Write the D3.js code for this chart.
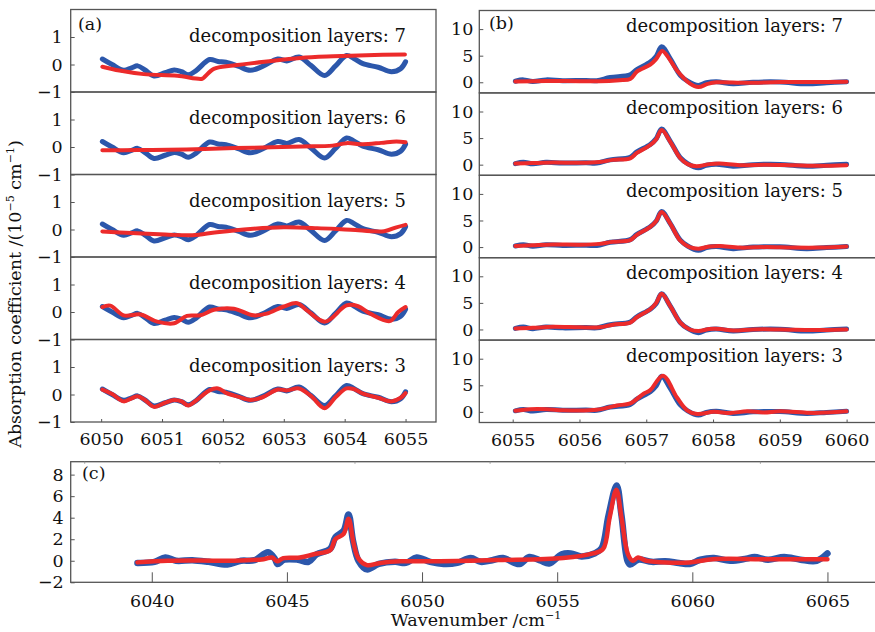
<!DOCTYPE html>
<html>
<head>
<meta charset="utf-8">
<script src="https://cdn.jsdelivr.net/npm/d3@7"></script>
<style>
  body { margin: 0; background: #fff; }
  text { font-family: "DejaVu Serif", serif; fill: #111; }
</style>
</head>
<body>
<div id="chart"></div>
<script>
// ---- data ----
var layers = [7, 6, 5, 4, 3]
var ticksA = [-1, 0, 1]
var ticksB = [0, 5, 10]
var ticksC = [-2, 0, 2, 4, 6, 8]
var xTicksA = [6050, 6051, 6052, 6053, 6054, 6055]
var xTicksB = [6055, 6056, 6057, 6058, 6059, 6060]
var xTicksC = [6040, 6045, 6050, 6055, 6060, 6065]
var topTicksC = [6037.5, 6042.5, 6047.5, 6052.5, 6057.5, 6062.5]

// (a) blue: same trace in every layer
var blueA = [[6050.02,0.2],[6050.18,0.0],[6050.37,-0.21],[6050.5,-0.12],[6050.6,-0.05],[6050.72,-0.2],[6050.87,-0.42],[6051.05,-0.3],[6051.2,-0.2],[6051.32,-0.26],[6051.43,-0.37],[6051.56,-0.22],[6051.78,0.18],[6051.92,0.11],[6052.05,0.08],[6052.25,-0.06],[6052.45,-0.21],[6052.65,-0.07],[6052.9,0.2],[6053.05,0.13],[6053.25,0.27],[6053.45,-0.04],[6053.67,-0.4],[6053.85,-0.05],[6054.03,0.33],[6054.15,0.22],[6054.3,0.03],[6054.55,-0.1],[6054.77,-0.26],[6054.92,-0.15],[6055.0,0.1]]
var redA7 = [[6050.02,-0.08],[6050.3,-0.22],[6050.7,-0.35],[6051.25,-0.41],[6051.66,-0.52],[6051.7,-0.45],[6051.85,-0.16],[6052.17,-0.04],[6052.72,0.11],[6053.27,0.24],[6053.81,0.3],[6054.36,0.34],[6054.99,0.36]]
var redA6 = [[6050.02,-0.12],[6050.6,-0.11],[6051.1,-0.1],[6051.7,-0.07],[6052.2,-0.04],[6052.8,-0.01],[6053.3,0.02],[6053.8,0.05],[6054.03,0.14],[6054.3,0.1],[6054.6,0.15],[6054.85,0.2],[6055.0,0.17]]
var redA5 = [[6050.02,-0.07],[6050.5,-0.13],[6051.05,-0.18],[6051.5,-0.21],[6051.9,-0.1],[6052.45,0.02],[6053.0,0.08],[6053.55,0.05],[6054.1,-0.01],[6054.65,-0.06],[6054.85,0.08],[6055.0,0.17]]
var redA4 = [[6050.02,0.18],[6050.15,0.23],[6050.37,-0.12],[6050.65,-0.09],[6050.92,-0.35],[6051.2,-0.41],[6051.41,-0.14],[6051.63,-0.12],[6051.85,0.08],[6052.18,0.12],[6052.5,-0.12],[6052.72,-0.06],[6053.0,0.2],[6053.22,0.32],[6053.38,0.06],[6053.68,-0.35],[6054.03,0.24],[6054.22,0.21],[6054.42,-0.06],[6054.74,-0.33],[6054.88,0.0],[6055.0,0.18]]
var redA3 = [[6050.02,0.18],[6050.18,0.02],[6050.37,-0.25],[6050.5,-0.14],[6050.6,-0.06],[6050.72,-0.2],[6050.87,-0.45],[6051.05,-0.3],[6051.2,-0.2],[6051.32,-0.25],[6051.43,-0.4],[6051.56,-0.22],[6051.78,0.15],[6051.92,0.22],[6052.05,0.06],[6052.25,-0.08],[6052.45,-0.2],[6052.65,-0.1],[6052.9,0.18],[6053.05,0.15],[6053.25,0.22],[6053.45,-0.06],[6053.67,-0.5],[6053.85,-0.1],[6054.03,0.22],[6054.15,0.2],[6054.3,0.03],[6054.55,-0.12],[6054.77,-0.25],[6054.92,-0.12],[6055.0,0.05]]

// (b)
var blueB = [[6055.04,0.2],[6055.16,0.45],[6055.3,0.15],[6055.5,0.45],[6055.75,0.3],[6056.1,0.35],[6056.26,0.3],[6056.46,0.9],[6056.76,1.4],[6056.86,2.4],[6057.06,3.8],[6057.15,4.9],[6057.23,6.7],[6057.36,4.4],[6057.51,1.3],[6057.62,0.2],[6057.78,-0.6],[6057.9,-0.1],[6058.05,0.1],[6058.3,-0.3],[6058.6,0.0],[6059.0,0.05],[6059.4,-0.3],[6059.7,-0.1],[6060.0,0.1]]
var redB7 = [[6055.04,0.15],[6055.5,0.25],[6056.0,0.2],[6056.3,0.2],[6056.6,0.4],[6056.76,0.6],[6056.86,2.0],[6057.06,3.3],[6057.15,4.4],[6057.24,5.9],[6057.35,4.3],[6057.46,2.2],[6057.65,-0.2],[6057.78,-0.9],[6057.92,-0.3],[6058.05,0.0],[6058.5,-0.1],[6059.0,0.05],[6059.5,0.05],[6060.0,0.1]]
var redB6 = [[6055.04,0.2],[6055.3,0.3],[6055.6,0.4],[6056.0,0.35],[6056.3,0.5],[6056.5,0.9],[6056.76,1.2],[6056.86,2.2],[6057.06,3.7],[6057.15,4.8],[6057.23,6.5],[6057.36,4.3],[6057.51,1.2],[6057.62,0.1],[6057.75,-0.3],[6057.95,0.1],[6058.1,0.2],[6058.4,-0.1],[6058.8,0.0],[6059.2,-0.1],[6059.6,-0.2],[6060.0,-0.1]]
var redB5 = [[6055.04,0.2],[6055.3,0.35],[6055.6,0.5],[6056.0,0.45],[6056.3,0.6],[6056.5,1.0],[6056.76,1.3],[6056.86,2.3],[6057.06,3.8],[6057.15,4.9],[6057.23,6.6],[6057.36,4.4],[6057.51,1.2],[6057.65,0.0],[6057.78,-0.3],[6057.95,0.1],[6058.1,0.2],[6058.4,-0.1],[6058.8,0.0],[6059.2,-0.1],[6059.6,-0.1],[6060.0,0.1]]
var redB4 = [[6055.04,0.2],[6055.3,0.3],[6055.6,0.5],[6056.0,0.4],[6056.3,0.4],[6056.5,0.9],[6056.76,1.3],[6056.86,2.3],[6057.06,3.8],[6057.15,5.0],[6057.23,6.7],[6057.36,4.4],[6057.51,1.3],[6057.65,0.0],[6057.78,-0.3],[6057.95,0.1],[6058.1,0.1],[6058.3,-0.2],[6058.6,0.0],[6059.0,0.0],[6059.5,-0.1],[6060.0,0.0]]
var redB3 = [[6055.04,0.2],[6055.26,0.5],[6055.51,0.5],[6055.76,0.3],[6056.26,0.4],[6056.56,1.2],[6056.76,1.6],[6056.96,3.4],[6057.06,4.1],[6057.25,6.8],[6057.46,2.7],[6057.61,0.3],[6057.76,-0.4],[6058.01,0.0],[6058.26,-0.2],[6058.51,0.1],[6058.76,-0.1],[6059.01,0.1],[6059.51,-0.2],[6060.0,0.1]]

// (c)
var blueC = [[6039.47,-0.2],[6040.1,-0.1],[6040.5,0.3],[6040.9,0.0],[6041.5,0.05],[6042.1,-0.1],[6042.8,-0.35],[6043.3,0.0],[6043.8,0.05],[6044.3,0.8],[6044.55,0.2],[6044.65,-0.3],[6044.9,0.1],[6045.4,0.1],[6045.8,-0.1],[6046.1,0.6],[6046.6,1.1],[6046.8,2.2],[6047.1,2.8],[6047.28,4.3],[6047.45,1.8],[6047.65,0.0],[6047.96,-0.8],[6048.4,-0.3],[6049.0,-0.1],[6049.4,-0.2],[6049.8,0.3],[6050.3,-0.1],[6050.8,-0.3],[6051.3,-0.2],[6051.8,0.25],[6052.17,-0.1],[6052.6,0.05],[6053.0,0.25],[6053.6,-0.3],[6053.97,0.35],[6054.4,0.0],[6054.7,-0.25],[6055.17,0.6],[6055.5,0.68],[6055.9,0.4],[6056.4,0.7],[6056.65,1.2],[6056.9,4.2],[6057.2,7.0],[6057.38,4.2],[6057.6,0.0],[6057.7,-0.35],[6058.0,0.1],[6058.5,-0.1],[6059.0,-0.05],[6059.5,-0.2],[6059.9,-0.3],[6060.3,0.1],[6060.8,0.25],[6061.4,0.0],[6062.0,0.2],[6062.3,0.35],[6062.8,0.1],[6063.4,0.35],[6064.0,0.1],[6064.6,0.0],[6065.0,0.68]]
var redC = [[6039.47,-0.15],[6040.58,0.0],[6041.8,0.02],[6043.04,0.0],[6044.14,0.15],[6044.45,0.3],[6044.64,-0.05],[6044.87,0.25],[6045.48,0.3],[6045.99,0.6],[6046.61,1.0],[6046.79,2.0],[6047.1,2.5],[6047.28,3.9],[6047.47,1.6],[6047.65,0.2],[6047.96,-0.4],[6048.45,-0.2],[6049.19,-0.05],[6050.66,-0.05],[6052.76,0.06],[6055.22,0.25],[6056.33,0.68],[6056.7,1.1],[6056.94,4.0],[6057.19,6.6],[6057.38,4.0],[6057.62,0.6],[6057.8,0.0],[6057.99,0.3],[6058.3,0.0],[6059.9,-0.15],[6060.76,0.15],[6062.6,0.15],[6065.0,0.15]]

var redA = [redA7, redA6, redA5, redA4, redA3]
var redB = [redB7, redB6, redB5, redB4, redB3]

// ---- drawing ----
var blue = '#2c57ab', red = '#ec2b2b', frame = '#555'
var fmt = d3.format('d')
var svg = d3.select('#chart').append('svg')
  .attr('width', 875).attr('height', 632)

function curve(x, y) {
  return d3.line()
    .x(d => x(d[0]))
    .y(d => y(d[1]))
    .curve(d3.curveCatmullRom.alpha(0.5))
}

function trace(g, line, data, color, w) {
  g.append('path').attr('d', line(data))
    .attr('fill', 'none').attr('stroke', color).attr('stroke-width', w)
    .attr('stroke-linecap', 'round').attr('stroke-linejoin', 'round')
}

function styleAxis(a, tickColor) {
  a.select('.domain').remove()
  a.selectAll('line').attr('stroke', tickColor || frame)
  a.selectAll('text').attr('font-size', 17.5).attr('font-family', 'DejaVu Serif').attr('fill', '#111')
}

function stack(p) {
  var x = d3.scaleLinear().domain(p.xdom).range([p.left, p.right])
  layers.forEach(function(n, i) {
    var top = p.top + i * p.step
    var y = d3.scaleLinear().domain(p.ydom).range([top + p.step, top])
    var g = svg.append('g')

    trace(g, curve(x, y), p.blue, blue, 5)
    trace(g, curve(x, y), p.red[i], red, 4)

    g.append('rect')
      .attr('x', p.left).attr('y', top)
      .attr('width', p.right - p.left).attr('height', p.step)
      .attr('fill', 'none').attr('stroke', frame).attr('stroke-width', 1.3)

    g.append('g')
      .attr('transform', `translate(${p.left},0)`)
      .call(d3.axisLeft(y).tickValues(p.yticks).tickFormat(fmt).tickSize(-4).tickPadding(p.ypad))
      .call(styleAxis)

    g.append('text')
      .attr('x', p.textX).attr('y', top + p.textDy)
      .attr('text-anchor', 'end').attr('font-size', 18)
      .text('decomposition layers: ' + n)

    if (i == layers.length - 1) {
      g.append('g')
        .attr('transform', `translate(0,${top + p.step})`)
        .call(d3.axisBottom(x).tickValues(p.xticks).tickFormat(fmt).tickSize(-3).tickPadding(11))
        .call(styleAxis)
    }
  })
  svg.append('text').attr('x', p.labelX).attr('y', p.labelY)
    .attr('font-size', 17.5).text(p.label)
}

stack({ left: 70.7, right: 436, top: 9.5, step: 82.5, xdom: [6049.5, 6055.5], ydom: [-1, 2],
  yticks: ticksA, xticks: xTicksA, blue: blueA, red: redA, ypad: 8,
  textX: 406, textDy: 32, label: '(a)', labelX: 78, labelY: 30 })

stack({ left: 479.3, right: 880, top: 10.5, step: 82.4, xdom: [6054.5, 6060.5], ydom: [-2, 13.5],
  yticks: ticksB, xticks: xTicksB, blue: blueB, red: redB, ypad: 6,
  textX: 843, textDy: 21.5, label: '(b)', labelX: 489, labelY: 29 })

// (c)
var xc = d3.scaleLinear().domain([6037, 6067]).range([70.7, 881.5])
var yc = d3.scaleLinear().domain([-2, 9.2]).range([582.3, 461.7])
var gc = svg.append('g')
trace(gc, curve(xc, yc), blueC, blue, 6.5)
trace(gc, curve(xc, yc), redC, red, 4.5)
gc.append('rect').attr('x', 70.7).attr('y', 461.7)
  .attr('width', 881.5 - 70.7).attr('height', 582.3 - 461.7)
  .attr('fill', 'none').attr('stroke', frame).attr('stroke-width', 1.3)

gc.append('g').attr('transform', 'translate(70.7,0)')
  .call(d3.axisLeft(yc).tickValues(ticksC).tickFormat(fmt).tickSize(-4).tickPadding(7))
  .call(styleAxis)

gc.append('g').attr('transform', 'translate(0,582.3)')
  .call(d3.axisBottom(xc).tickValues(xTicksC).tickFormat(fmt).tickSize(-10).tickPadding(12))
  .call(styleAxis)

gc.append('g').attr('transform', 'translate(0,461.7)')
  .call(d3.axisTop(xc).tickValues(topTicksC).tickSize(-2).tickFormat(''))
  .call(a => styleAxis(a, '#999'))

svg.append('text').attr('x', 82).attr('y', 479).attr('font-size', 17.5).text('(c)')

// axis titles
svg.append('text').attr('x', 476).attr('y', 626).attr('text-anchor', 'middle')
  .attr('font-size', 17.5)
  .call(t => {
    t.append('tspan').text('Wavenumber /cm')
    t.append('tspan').attr('font-size', 11).attr('dy', -7).text('−1')
  })

svg.append('text').attr('transform', 'translate(21,294) rotate(-90)')
  .attr('text-anchor', 'middle').attr('font-size', 17.5)
  .call(t => {
    t.append('tspan').text('Absorption coefficient /(10')
    t.append('tspan').attr('font-size', 11).attr('dy', -7).text('−5')
    t.append('tspan').attr('dy', 7).text(' cm')
    t.append('tspan').attr('font-size', 11).attr('dy', -7).text('−1')
    t.append('tspan').attr('dy', 7).text(')')
  })
</script>
</body>
</html>
